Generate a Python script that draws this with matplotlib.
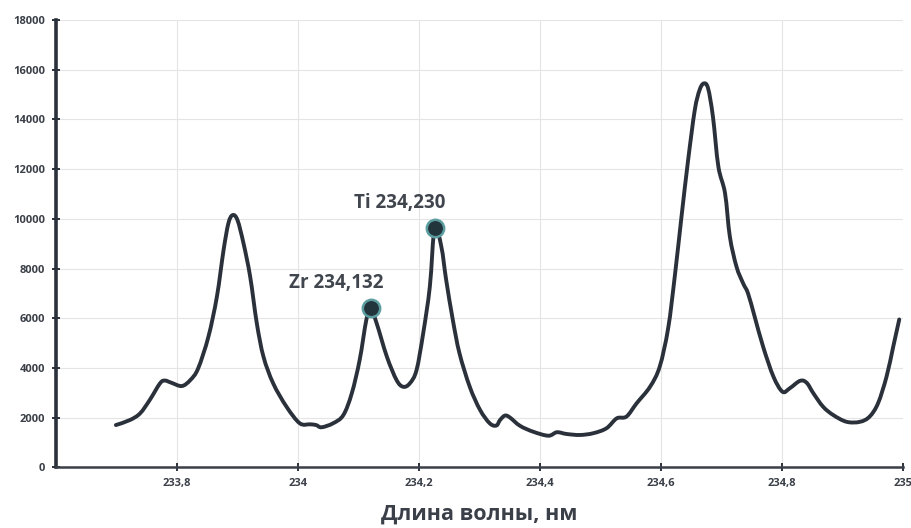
import matplotlib
matplotlib.use("Agg")
import matplotlib.pyplot as plt
from matplotlib.path import Path
from matplotlib.patches import PathPatch
import numpy as np

plt.rcParams['font.family'] = ['Open Sans', 'DejaVu Sans']

# spectrum (wavelength, nm / intensity)
wavelength = [
    233.699, 233.722, 233.739, 233.755, 233.772, 233.780, 233.791, 233.808,
    233.822, 233.835, 233.852, 233.866, 233.877, 233.885, 233.892, 233.900,
    233.910, 233.921, 233.932, 233.943, 233.959, 233.981, 234.003, 234.020,
    234.030, 234.039, 234.058, 234.075, 234.089, 234.102, 234.113, 234.120,
    234.130, 234.147, 234.163, 234.174, 234.185, 234.196, 234.207, 234.218,
    234.226, 234.237, 234.245, 234.256, 234.267, 234.284, 234.301, 234.317,
    234.328, 234.334, 234.342, 234.350, 234.367, 234.389, 234.414, 234.428,
    234.444, 234.466, 234.488, 234.510, 234.527, 234.543, 234.560, 234.582,
    234.598, 234.612, 234.623, 234.634, 234.645, 234.656, 234.664, 234.671,
    234.678, 234.686, 234.695, 234.706, 234.714, 234.725, 234.736, 234.744,
    234.755, 234.769, 234.786, 234.801, 234.813, 234.830, 234.841, 234.852,
    234.868, 234.885, 234.907, 234.929, 234.945, 234.959, 234.973, 234.984,
    234.994,
]
intensity = [
    1700, 1900, 2170, 2710, 3380, 3490, 3400, 3270,
    3510, 3980, 5260, 6870, 8740, 9820, 10150, 9950,
    9010, 7670, 5790, 4450, 3380, 2440, 1770, 1730,
    1700, 1610, 1770, 2100, 2980, 4320, 5930, 6400,
    5800, 4450, 3510, 3240, 3380, 3910, 5390, 7270,
    9650, 8880, 7540, 5930, 4590, 3240, 2310, 1770,
    1680, 1900, 2080, 2010, 1670, 1430, 1270, 1410,
    1340, 1300, 1370, 1570, 1970, 2040, 2580, 3240,
    4050, 5600, 7700, 10080, 12370, 14380, 15190, 15450,
    15250, 14110, 12100, 11030, 9280, 8070, 7400, 7000,
    6060, 4850, 3650, 3040, 3180, 3480, 3400, 2980,
    2440, 2100, 1830, 1830, 2040, 2580, 3650, 4850,
    5950,
]

peak_wavelength = [234.120, 234.226]
peak_labels = ['Zr 234,132', 'Ti 234,230']

x_ticks = [233.8, 234.0, 234.2, 234.4, 234.6, 234.8, 235.0]
x_tick_labels = ['233,8', '234', '234,2', '234,4', '234,6', '234,8', '235']
y_ticks = list(range(0, 18001, 2000))

LINE = '#2b313b'
TEXT = '#3b4048'


def smooth_path(xs, ys, tension=6.0):
    """Catmull-Rom style bezier path through the given points (curve drawing only)."""
    pts = np.column_stack([xs, ys]).astype(float)
    verts = [pts[0]]
    codes = [Path.MOVETO]
    n = len(pts)
    for i in range(n - 1):
        p0 = pts[max(i - 1, 0)]
        p1 = pts[i]
        p2 = pts[i + 1]
        p3 = pts[min(i + 2, n - 1)]
        c1 = p1 + (p2 - p0) / tension
        c2 = p2 - (p3 - p1) / tension
        verts += [c1, c2, p2]
        codes += [Path.CURVE4] * 3
    return Path(verts, codes)


fig = plt.figure(figsize=(9.12, 5.28), dpi=100)
ax = fig.add_axes([0.0614, 0.115, 0.9286, 0.847])

curve = PathPatch(smooth_path(wavelength, intensity), facecolor='none',
                  edgecolor=LINE, linewidth=2.8, joinstyle='round',
                  capstyle='round', zorder=3)
ax.add_patch(curve)

# peak markers + labels
wl = np.array(wavelength)
for pw, lab in zip(peak_wavelength, peak_labels):
    i = int(np.argmin(np.abs(wl - pw)))
    ax.plot(wl[i], intensity[i], 'o', markersize=12.5,
            markerfacecolor='#22343c', markeredgecolor='#5c9ea0',
            markeredgewidth=1.8, zorder=4)
    ax.annotate(lab, (wl[i], intensity[i]), xytext=(-25, 18),
                textcoords='offset points', ha='center', va='center',
                fontsize=13.5, fontweight='bold', color='#41464e')

ax.set_xlim(233.6, 235.0)
ax.set_ylim(0, 18000)
ax.set_xticks(x_ticks)
ax.set_xticklabels(x_tick_labels)
ax.set_yticks(y_ticks)
ax.set_yticklabels([str(v) for v in y_ticks])

ax.grid(True, color='#e4e4e4', linewidth=0.8)
ax.set_axisbelow(True)

for s in ['top', 'right']:
    ax.spines[s].set_visible(False)
ax.spines['left'].set_linewidth(2.6)
ax.spines['left'].set_color(LINE)
ax.spines['bottom'].set_linewidth(1.8)
ax.spines['bottom'].set_color('#3a3f47')

ax.tick_params(axis='both', direction='inout', length=6, width=1.4,
               color=LINE, labelsize=8, labelcolor=TEXT, pad=5)
for lbl in ax.get_xticklabels() + ax.get_yticklabels():
    lbl.set_fontweight('bold')

ax.set_xlabel('Длина волны, нм', fontsize=15.5, fontweight='bold',
              color=TEXT, labelpad=10)

fig.savefig('out.png', dpi=100)
